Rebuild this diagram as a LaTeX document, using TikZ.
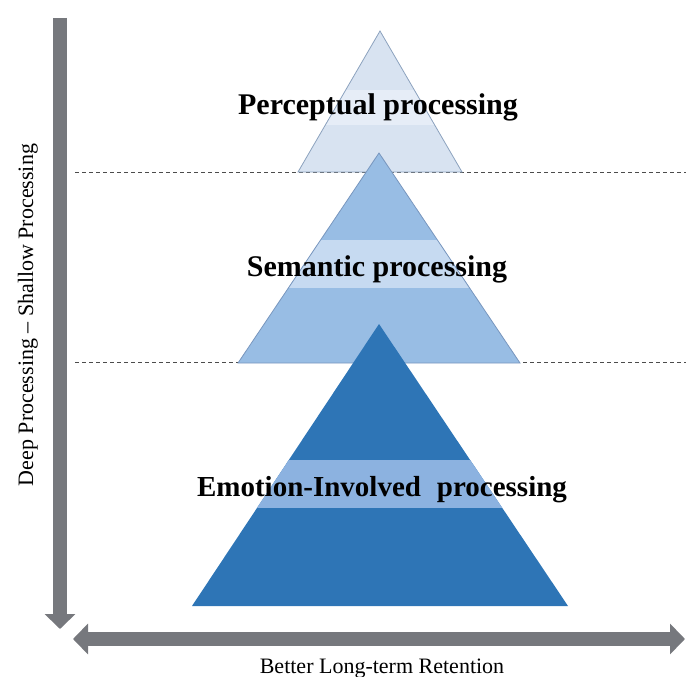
\documentclass[tikz,border=0pt]{standalone}
\usepackage{fontspec}
\setmainfont{Liberation Serif}
\usetikzlibrary{arrows.meta}

\definecolor{axisgray}{RGB}{118,120,125}
\definecolor{topfill}{RGB}{216,227,241}
\definecolor{topband}{RGB}{230,237,247}
\definecolor{topedge}{RGB}{140,162,190}
\definecolor{midfill}{RGB}{152,189,228}
\definecolor{midband}{RGB}{198,218,241}
\definecolor{midedge}{RGB}{120,150,190}
\definecolor{lowfill}{RGB}{46,117,182}
\definecolor{lowband}{RGB}{140,178,224}

\tikzstyle{lvl} = [font=\fontsize{30}{34}\selectfont\bfseries, inner sep=0pt, anchor=base]
\tikzstyle{axislabel} = [font=\fontsize{22}{26}\selectfont, inner sep=0pt, anchor=base]
\tikzstyle{axis} = [line width=14pt, draw=axisgray, >={Triangle[width=30pt,length=15pt]}]
\tikzstyle{sep} = [dashed, dash pattern=on 4pt off 3pt, draw=black!70, line width=0.6pt]

\begin{document}
\begin{tikzpicture}[x=1pt,y=-1pt]
\useasboundingbox (0,0) rectangle (686,677);

% end points of the two axes
\coordinate (vtop) at (60,18);
\coordinate (vtip) at (60,629);
\coordinate (hleft) at (73,639);
\coordinate (hright) at (685,639);

% level separators
\coordinate (sepa) at (75,172);
\coordinate (sepaend) at (686,172);
\coordinate (sepb) at (75,362);
\coordinate (sepbend) at (686,362);
\draw[sep] (sepa) -- (sepaend);
\draw[sep] (sepb) -- (sepbend);

% perceptual triangle
\coordinate (ptop) at (380,31);
\coordinate (pleft) at (298,172);
\coordinate (pright) at (462,172);
\fill[topfill] (ptop) -- (pleft) -- (pright) -- cycle;
\begin{scope}
  \clip (ptop) -- (pleft) -- (pright) -- cycle;
  \fill[topband] (200,90) rectangle (560,125);
\end{scope}
\draw[topedge, line width=0.8pt] (ptop) -- (pleft) -- (pright) -- cycle;

% semantic triangle
\coordinate (stop) at (379,153);
\coordinate (sleft) at (238,363);
\coordinate (sright) at (520,363);
\fill[midfill] (stop) -- (sleft) -- (sright) -- cycle;
\begin{scope}
  \clip (stop) -- (sleft) -- (sright) -- cycle;
  \fill[midband] (200,240) rectangle (560,288);
\end{scope}
\draw[midedge, line width=0.8pt] (stop) -- (sleft) -- (sright) -- cycle;

% emotion triangle
\coordinate (etop) at (379,324);
\coordinate (eleft) at (192,606);
\coordinate (eright) at (568,606);
\fill[lowfill] (etop) -- (eleft) -- (eright) -- cycle;
\begin{scope}
  \clip (etop) -- (eleft) -- (eright) -- cycle;
  \fill[lowband] (150,460) rectangle (600,508);
\end{scope}

\node[lvl] (perceptual) at (378,114) {Perceptual processing};
\node[lvl] (semantic) at (377,276) {Semantic processing};
\node[lvl, font=\fontsize{29}{34}\selectfont\bfseries] (emotion) at (382,496) {Emotion-Involved\hspace{0.3em} processing};

% axes
\draw[axis, ->] (vtop) -- (vtip);
\draw[axis, <->] (hleft) -- (hright);

\node[axislabel, rotate=90] (depth) at (33,315) {Deep Processing -- Shallow Processing};
\node[axislabel] (retention) at (382,673) {Better Long-term Retention};

\end{tikzpicture}
\end{document}
